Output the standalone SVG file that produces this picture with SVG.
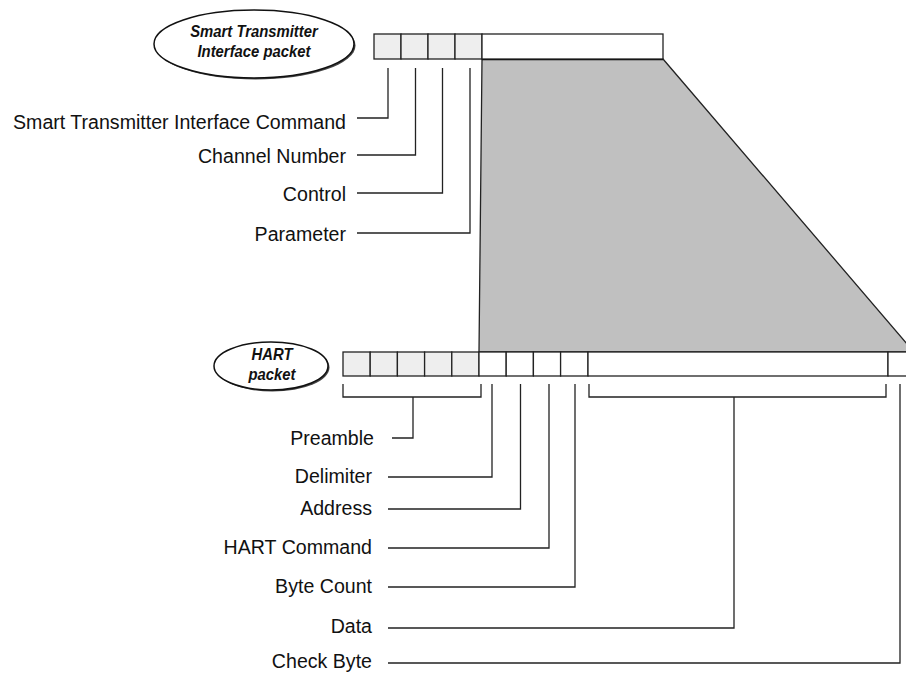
<svg xmlns="http://www.w3.org/2000/svg" width="906" height="675" viewBox="0 0 906 675">
<style>
.lbl{font-family:"Liberation Sans",Arial,sans-serif;font-size:21px;fill:#111;text-anchor:end}
.ttl{font-family:"Liberation Sans",Arial,sans-serif;font-size:16.5px;font-weight:bold;font-style:italic;fill:#111;text-anchor:middle}
.cell{fill:#eeeeee;stroke:#222;stroke-width:1.3}
.wcell{fill:#ffffff;stroke:#222;stroke-width:1.3}
.conn{fill:none;stroke:#222;stroke-width:1.3}
.ell{fill:#fff;stroke:#111;stroke-width:1.5}
</style>
<rect width="906" height="675" fill="#fff"/>
<g id="trapezoid">
<polygon points="482,59 663,59 914,352 479,352" fill="#c0c0c0" stroke="#222" stroke-width="1.3"/>
<line x1="482" y1="59" x2="663" y2="59" stroke="#000" stroke-width="2.5"/>
</g>
<g id="sti-title">
<ellipse cx="255.5" cy="45.5" rx="100" ry="34" fill="#444"/>
<ellipse class="ell" cx="254" cy="44" rx="100" ry="34"/>
<text class="ttl" transform="translate(254,37) scale(0.9,1)">Smart Transmitter</text>
<text class="ttl" transform="translate(254,57) scale(0.9,1)">Interface packet</text>
</g>
<g id="sti-packet">
<rect class="cell" x="374" y="34" width="27" height="25"/>
<rect class="cell" x="401" y="34" width="27" height="25"/>
<rect class="cell" x="428" y="34" width="27" height="25"/>
<rect class="cell" x="455" y="34" width="27" height="25"/>
<rect class="wcell" x="482" y="34" width="181" height="25"/>
</g>
<g id="hart-title">
<ellipse cx="272.5" cy="367.5" rx="57" ry="24" fill="#444"/>
<ellipse class="ell" cx="271" cy="366" rx="57" ry="24"/>
<text class="ttl" transform="translate(272,360) scale(0.9,1)">HART</text>
<text class="ttl" transform="translate(272,380) scale(0.9,1)">packet</text>
</g>
<g id="hart-packet">
<rect class="cell" x="343" y="352" width="27.2" height="24"/>
<rect class="cell" x="370.2" y="352" width="27.2" height="24"/>
<rect class="cell" x="397.4" y="352" width="27.2" height="24"/>
<rect class="cell" x="424.6" y="352" width="27.2" height="24"/>
<rect class="cell" x="451.8" y="352" width="27.2" height="24"/>
<rect class="wcell" x="479" y="352" width="27.2" height="24"/>
<rect class="wcell" x="506.2" y="352" width="27.2" height="24"/>
<rect class="wcell" x="533.4" y="352" width="27.2" height="24"/>
<rect class="wcell" x="560.6" y="352" width="27.4" height="24"/>
<rect class="wcell" x="588" y="352" width="300" height="24"/>
<rect class="wcell" x="888" y="352" width="40" height="24"/>
</g>
<g id="labels">
<text class="lbl" transform="translate(346,129) scale(0.933,1)">Smart Transmitter Interface Command</text>
<text class="lbl" transform="translate(346,163) scale(0.933,1)">Channel Number</text>
<text class="lbl" transform="translate(346,201) scale(0.933,1)">Control</text>
<text class="lbl" transform="translate(346,241) scale(0.933,1)">Parameter</text>
<text class="lbl" transform="translate(374,445) scale(0.933,1)">Preamble</text>
<text class="lbl" transform="translate(372,483) scale(0.933,1)">Delimiter</text>
<text class="lbl" transform="translate(372,515) scale(0.933,1)">Address</text>
<text class="lbl" transform="translate(372,554) scale(0.933,1)">HART Command</text>
<text class="lbl" transform="translate(372,593) scale(0.933,1)">Byte Count</text>
<text class="lbl" transform="translate(372,633) scale(0.933,1)">Data</text>
<text class="lbl" transform="translate(372,668) scale(0.933,1)">Check Byte</text>
</g>
<g id="connectors">
<polyline class="conn" points="357,118 388,118 388,68"/>
<polyline class="conn" points="357,155 415.5,155 415.5,68"/>
<polyline class="conn" points="357,193 442.5,193 442.5,68"/>
<polyline class="conn" points="357,233 470,233 470,68"/>
<polyline class="conn" points="343,384 343,397 481,397 481,384"/>
<polyline class="conn" points="392,438 413,438 413,397"/>
<polyline class="conn" points="388,477 492,477 492,384"/>
<polyline class="conn" points="388,509 520.5,509 520.5,384"/>
<polyline class="conn" points="388,548 549,548 549,384"/>
<polyline class="conn" points="388,587 575,587 575,384"/>
<polyline class="conn" points="589,384 589,397 886,397 886,384"/>
<polyline class="conn" points="388,628 734,628 734,397"/>
<polyline class="conn" points="388,663 900,663 900,384"/>
</g>
</svg>
